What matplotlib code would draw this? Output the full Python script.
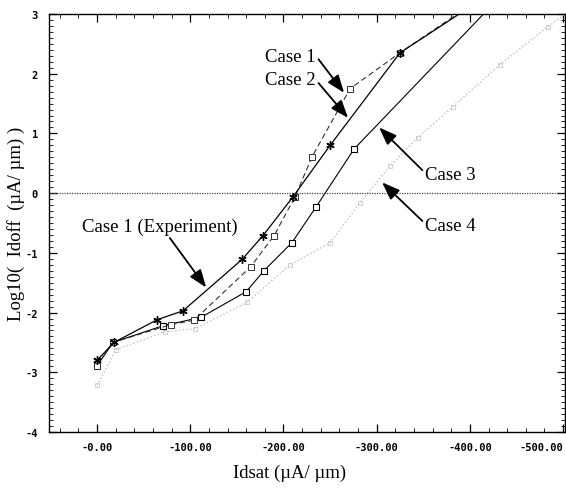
import matplotlib
matplotlib.use("Agg")
import matplotlib.pyplot as plt
from matplotlib.ticker import MultipleLocator, FixedLocator, FixedFormatter

# ---- data ----
exp_x = [0, 18.2, 64.4, 92.3, 155.6, 178.1, 210.3, 250.0, 325.0, 411.0]
exp_y = [-2.80, -2.50, -2.12, -1.97, -1.11, -0.71, -0.06, 0.80, 2.35, 3.23]

case1_x = [0, 17.2, 79.4, 104.0, 165.0, 190.0, 212.4, 230.7, 271.5, 325.0, 410.0]
case1_y = [-2.89, -2.50, -2.20, -2.13, -1.23, -0.71, -0.06, 0.61, 1.75, 2.35, 3.25]

case3_x = [0, 17.2, 70.8, 111.6, 160.0, 179.0, 209.0, 235.0, 275.8, 430.0]
case3_y = [-2.89, -2.50, -2.22, -2.08, -1.65, -1.30, -0.83, -0.23, 0.74, 3.25]

case4_x = [0, 20.4, 73.0, 105.0, 161.0, 207.0, 250.0, 282.0, 314.0, 344.0, 382.0, 432.0, 484.0, 520.0]
case4_y = [-3.22, -2.62, -2.32, -2.27, -1.83, -1.20, -0.83, -0.16, 0.45, 0.93, 1.45, 2.15, 2.79, 3.20]

x_ticks = [0, 100, 200, 300, 400, 500]
x_tick_labels = ["-0.00", "-100.00", "-200.00", "-300.00", "-400.00", "-500.00"]
y_ticks = [-4, -3, -2, -1, 0, 1, 2, 3]
y_tick_labels = ["-4", "-3", "-2", "-1", "0", "1", "2", "3"]

fig = plt.figure(figsize=(5.66, 4.89), dpi=100)
ax = fig.add_axes([49/566, (489-433)/489, 516/566, 418/489])

serif = ["Liberation Serif", "DejaVu Serif"]

ax.plot(case4_x, case4_y, linestyle=":", color="#c0c0c0", lw=1.0,
        marker="s", ms=3.5, mfc="none", mec="#c8c8c8", mew=0.6)
ax.plot(case3_x, case3_y, linestyle="-", color="black", lw=0.8,
        marker="s", ms=4.5, mfc="white", mec="black", mew=0.8)
ax.plot(case1_x, case1_y, linestyle=(0, (5, 3)), color="#333333", lw=0.8,
        marker="s", ms=4.5, mfc="white", mec="#333333", mew=0.7)
ax.plot(exp_x, exp_y, linestyle="-", color="black", lw=0.9,
        marker=(6, 2, 0), ms=6, mec="black", mew=1.0)

ax.axhline(0, color="#444444", lw=0.9, linestyle=(0, (1, 1)))

ax.set_xlim(-51.5, 502)
ax.set_ylim(-4, 3)

ax.xaxis.set_major_locator(FixedLocator(x_ticks))
ax.xaxis.set_major_formatter(FixedFormatter(x_tick_labels))
ax.xaxis.set_minor_locator(MultipleLocator(20))
ax.yaxis.set_major_locator(FixedLocator(y_ticks))
ax.yaxis.set_major_formatter(FixedFormatter(y_tick_labels))
ax.yaxis.set_minor_locator(MultipleLocator(0.1))

ax.tick_params(which="both", direction="in", top=True, right=True, color="black")
ax.tick_params(which="major", length=6, width=0.9)
ax.tick_params(which="minor", length=3, width=0.6)
ax.tick_params(axis="x", pad=7)
ax.tick_params(axis="y", pad=8)
for lab in ax.get_xticklabels() + ax.get_yticklabels():
    lab.set_fontfamily("DejaVu Sans Mono")
    lab.set_fontsize(7.5)
    lab.set_fontweight("bold")
# last x tick label sits flush against the right edge, as in the reference
ax.get_xticklabels()[-1].set_horizontalalignment("right")

for sp in ax.spines.values():
    sp.set_linewidth(1.0)

ax.set_xlabel("Idsat (\u00b5A/ \u00b5m)", fontfamily=serif, fontsize=13.5)
ax.xaxis.set_label_coords(0.467, -0.075)
ax.set_ylabel("Log10(  Idoff  (\u00b5A/ \u00b5m) )", fontfamily=serif, fontsize=13.5)
ax.yaxis.set_label_coords(-0.046, 0.5)

arrow = dict(arrowstyle="-|>,head_length=0.8,head_width=0.3", color="black", lw=1.3,
             shrinkA=0, shrinkB=0)

ax.annotate("Case 1 (Experiment)", xy=(117, -1.58), xytext=(67.6, -0.56),
            ha="center", va="center", fontfamily=serif, fontsize=13.5,
            arrowprops=dict(arrow, relpos=(0.55, 0.0)))
ax.annotate("Case 1", xy=(265, 1.68), xytext=(180.3, 2.28),
            ha="left", va="center", fontfamily=serif, fontsize=13.5,
            arrowprops=dict(arrow, relpos=(0.97, 0.7)))
ax.annotate("Case 2", xy=(269.3, 1.26), xytext=(180.3, 1.90),
            ha="left", va="center", fontfamily=serif, fontsize=13.5,
            arrowprops=dict(arrow, relpos=(0.97, 0.6)))
ax.annotate("Case 3", xy=(302.6, 1.10), xytext=(352, 0.31),
            ha="left", va="center", fontfamily=serif, fontsize=13.5,
            arrowprops=dict(arrow, relpos=(0.0, 0.6)))
ax.annotate("Case 4", xy=(305.8, 0.18), xytext=(352, -0.54),
            ha="left", va="center", fontfamily=serif, fontsize=13.5,
            arrowprops=dict(arrow, relpos=(0.0, 0.6)))

fig.savefig("out.png", dpi=100)
